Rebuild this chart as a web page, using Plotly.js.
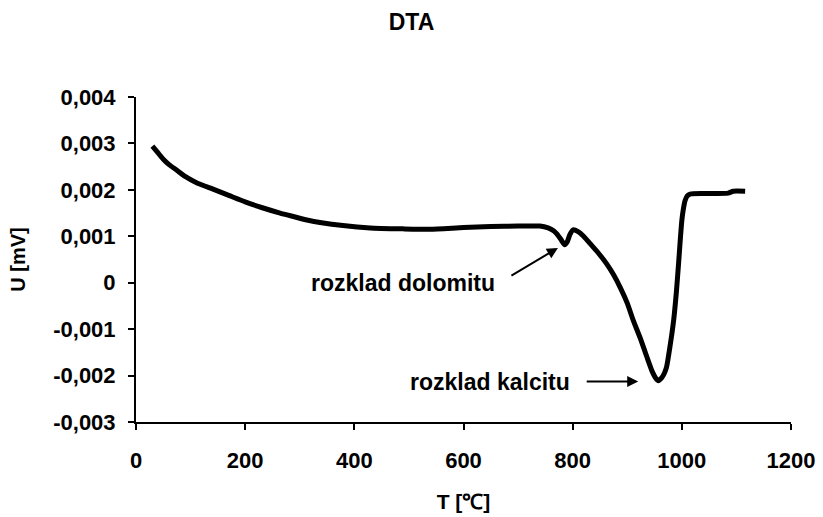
<!DOCTYPE html>
<html>
<head>
<meta charset="utf-8">
<script src="https://cdn.plot.ly/plotly-3.0.1.min.js"></script>
<style>html,body{margin:0;padding:0;background:#fff;}#chart{width:823px;height:517px;}</style>
</head>
<body>
<div id="chart"></div>
<script>
// Temperature [°C]
const temperature = [30, 40, 50, 60, 75, 90, 110, 140, 170, 200, 230, 264, 290, 313, 340, 379, 429, 489, 539, 600, 650, 700, 740, 755, 765, 771, 778, 785, 790, 795, 801, 810, 820, 832, 847, 862, 875, 887, 900, 911, 924, 936, 946, 952, 957, 963, 968, 972, 978, 985, 990, 994, 997, 1000, 1003, 1006, 1010, 1015, 1040, 1085, 1094, 1116];
// DTA signal [mV]
const signal = [0.00294, 0.00280, 0.00266, 0.00255, 0.00242, 0.00229, 0.00216, 0.00202, 0.00188, 0.00174, 0.00162, 0.00150, 0.00142, 0.00135, 0.00129, 0.00123, 0.00118, 0.00116, 0.00115, 0.00119, 0.00121, 0.00122, 0.00122, 0.00118, 0.00112, 0.00105, 0.00094, 0.00082, 0.00088, 0.00104, 0.00114, 0.00110, 0.00100, 0.00084, 0.00064, 0.00041, 0.00017, -0.00010, -0.00044, -0.00081, -0.00120, -0.00160, -0.00192, -0.00205, -0.00211, -0.00205, -0.00195, -0.00182, -0.00140, -0.00081, -0.00020, 0.00041, 0.00090, 0.00134, 0.00160, 0.00177, 0.00187, 0.00191, 0.00192, 0.00193, 0.00197, 0.00197];

const xTickVals = [0, 200, 400, 600, 800, 1000, 1200];
const xTickText = ['0', '200', '400', '600', '800', '1000', '1200'];
const yTickVals = [-0.003, -0.002, -0.001, 0, 0.001, 0.002, 0.003, 0.004];
const yTickText = ['-0,003', '-0,002', '-0,001', '0', '0,001', '0,002', '0,003', '0,004'];

const annotationLabels = ['rozklad dolomitu', 'rozklad kalcitu'];
const annotationTextX = [489, 649];
const annotationTextY = [0.0000, -0.00213];
const arrowTailX = [685, 823];
const arrowTailY = [0.000134, -0.00213];
const arrowHeadX = [773, 920];
const arrowHeadY = [0.00075, -0.00213];

const FONT = 'Arial, "Liberation Sans", sans-serif';

const annotations = [];
for (let i = 0; i < annotationLabels.length; i++) {
  annotations.push({
    x: annotationTextX[i], y: annotationTextY[i], xref: 'x', yref: 'y',
    text: annotationLabels[i], showarrow: false,
    font: {family: FONT, size: 23, color: '#000', weight: 'bold'},
    xanchor: 'center', yanchor: 'middle'
  });
  annotations.push({
    x: arrowHeadX[i], y: arrowHeadY[i], xref: 'x', yref: 'y',
    ax: arrowTailX[i], ay: arrowTailY[i], axref: 'x', ayref: 'y',
    text: '', showarrow: true, arrowhead: 2, arrowsize: 1.1, arrowwidth: 2,
    arrowcolor: '#000', standoff: 0, startstandoff: 0
  });
}

const trace = {
  x: temperature, y: signal, type: 'scatter', mode: 'lines',
  line: {color: '#000', width: 5, shape: 'spline', smoothing: 0.5},
  hoverinfo: 'skip'
};

const axisCommon = {
  showgrid: false, zeroline: false, showline: true, linecolor: '#000', linewidth: 2,
  ticks: 'outside', ticklen: 6, tickwidth: 2, tickcolor: '#000',
  tickfont: {family: FONT, size: 22, color: '#000', weight: 'bold'},
  automargin: false
};

const layout = {
  width: 823, height: 517,
  margin: {l: 136, r: 32, t: 97, b: 95},
  paper_bgcolor: '#fff', plot_bgcolor: '#fff',
  showlegend: false,
  title: {text: 'DTA', font: {family: FONT, size: 23, color: '#000', weight: 'bold'}, x: 0.5, xanchor: 'center', y: 0.957, yanchor: 'middle'},
  xaxis: Object.assign({}, axisCommon, {
    range: [0, 1200], tickmode: 'array', tickvals: xTickVals, ticktext: xTickText,
    ticklabelstandoff: 12,
    title: {text: 'T [℃]', font: {family: FONT, size: 21, color: '#000', weight: 'bold'}, standoff: 22}
  }),
  yaxis: Object.assign({}, axisCommon, {
    range: [-0.003, 0.004], tickmode: 'array', tickvals: yTickVals, ticktext: yTickText,
    ticklabelstandoff: 8,
    title: {text: 'U [mV]', font: {family: FONT, size: 20, color: '#000', weight: 'bold'}, standoff: 22}
  }),
  annotations: annotations
};

Plotly.newPlot('chart', [trace], layout, {staticPlot: true, displayModeBar: false});
</script>
</body>
</html>
